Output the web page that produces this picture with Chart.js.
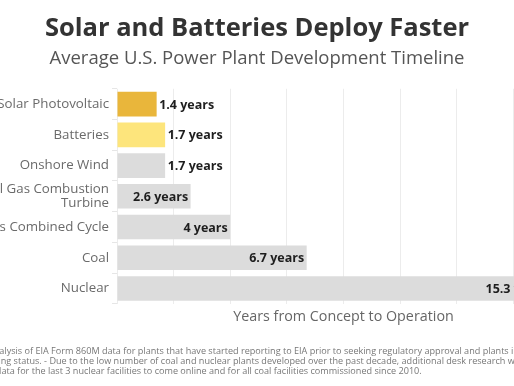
<!DOCTYPE html>
<html>
<head>
<meta charset="utf-8">
<script src="https://cdn.jsdelivr.net/npm/chart.js@4.4.0/dist/chart.umd.min.js"></script>
<style>
  html, body { margin: 0; padding: 0; background: #fff; overflow: hidden; }
  #wrap { position: relative; width: 514px; height: 386px; overflow: hidden; }
  #frame { position: absolute; left: -83px; top: 0; width: 680px; height: 386px; }
  #note { position: absolute; left: 0; top: 346px; width: 514px; font-family: 'Open Sans', sans-serif; font-size: 9.1px; color: #777; }
  #note div { position: absolute; white-space: nowrap; line-height: 10px; }
</style>
</head>
<body>
<div id="wrap">
  <div id="frame"><canvas id="chart" width="680" height="386"></canvas></div>
  <div id="note"></div>
</div>
<script>
// chart data
const categories = [
  ['Solar Photovoltaic'],
  ['Batteries'],
  ['Onshore Wind'],
  ['Natural Gas Combustion', 'Turbine'],
  ['Natural Gas Combined Cycle'],
  ['Coal'],
  ['Nuclear']
];
const years = [1.4, 1.7, 1.7, 2.6, 4, 6.7, 15.3];
const barColors = ['#E9B63B', '#FDE57C', '#DCDCDC', '#DCDCDC', '#DCDCDC', '#DCDCDC', '#DCDCDC'];

// footnote, the picture is cropped so the start of each line is hidden
const noteLines = [
  ['Source: RMI an', 'alysis of EIA Form 860M data for plants that have started reporting to EIA prior to seeking regulatory approval and plants in', -1],
  ['in operati', 'ng status. - Due to the low number of coal and nuclear plants developed over the past decade, additional desk research was used', 1],
  ['was used to gather ', 'data for the last 3 nuclear facilities to come online and for all coal facilities commissioned since 2010.', -4]
];

const FONT = "'Open Sans', sans-serif";

const note = document.getElementById('note');
noteLines.forEach((l, i) => {
  const d = document.createElement('div');
  const pre = document.createElement('span');
  pre.textContent = l[0];
  d.appendChild(pre);
  d.appendChild(document.createTextNode(l[1]));
  d.style.top = (i * 9.8) + 'px';
  note.appendChild(d);
  d.style.left = (l[2] - pre.offsetWidth) + 'px';
});

// value labels: inside the bar end when they fit, else just past it
const barLabels = {
  id: 'barLabels',
  afterDatasetsDraw(chart) {
    const ctx = chart.ctx;
    const meta = chart.getDatasetMeta(0);
    ctx.save();
    ctx.font = "bold 12.5px " + FONT;
    ctx.fillStyle = '#1e1e1e';
    ctx.textBaseline = 'middle';
    meta.data.forEach((bar, i) => {
      const txt = years[i] + ' years';
      const w = ctx.measureText(txt).width;
      if (w + 8 < bar.x - bar.base) {
        ctx.textAlign = 'right';
        ctx.fillText(txt, bar.x - 2.5, bar.y + 1);
      } else {
        ctx.textAlign = 'left';
        ctx.fillText(txt, bar.x + 2.5, bar.y + 1);
      }
    });
    ctx.restore();
  }
};

new Chart(document.getElementById('chart'), {
  type: 'bar',
  data: {
    labels: categories,
    datasets: [{
      data: years,
      backgroundColor: barColors,
      categoryPercentage: 0.8,
      barPercentage: 1
    }]
  },
  options: {
    indexAxis: 'y',
    responsive: false,
    animation: false,
    layout: { padding: { left: 27, right: 27, top: 0, bottom: 56 } },
    plugins: {
      legend: { display: false },
      tooltip: { enabled: false },
      title: {
        display: true,
        text: 'Solar and Batteries Deploy Faster',
        color: '#333',
        font: { family: FONT, size: 25.5, weight: 'bold' },
        padding: { top: 13, bottom: 4 }
      },
      subtitle: {
        display: true,
        text: 'Average U.S. Power Plant Development Timeline',
        color: '#555',
        font: { family: FONT, size: 18.5 },
        padding: { top: 0, bottom: 19 }
      }
    },
    scales: {
      x: {
        min: 0,
        max: 16,
        ticks: { display: false, stepSize: 2 },
        grid: { color: '#ececec', drawTicks: false },
        border: { display: false },
        title: {
          display: true,
          text: 'Years from Concept to Operation',
          color: '#666',
          font: { family: FONT, size: 14.3 },
          padding: { top: 5, bottom: 4 }
        }
      },
      y: {
        ticks: { color: '#6a6a6a', font: { family: FONT, size: 13.3, lineHeight: 1 }, padding: 3 },
        grid: { drawOnChartArea: false, tickLength: 5, color: '#e6e6e6' },
        border: { display: false },
        afterFit: s => { s.width = 173; }
      }
    }
  },
  plugins: [barLabels]
});
</script>
</body>
</html>
